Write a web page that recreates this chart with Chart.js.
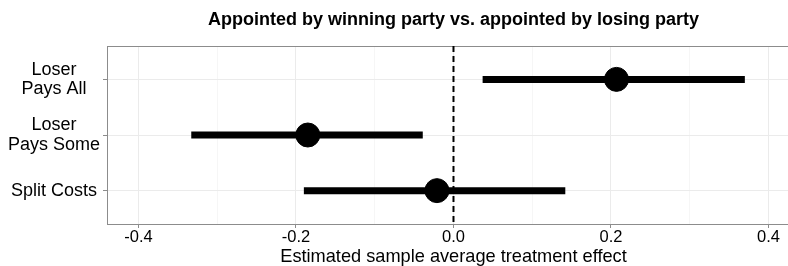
<!DOCTYPE html>
<html>
<head>
<meta charset="utf-8">
<script src="https://cdn.jsdelivr.net/npm/chart.js@4.4.1/dist/chart.umd.min.js"></script>
<style>
  body { margin: 0; background: #fff; }
</style>
</head>
<body>
<canvas id="chart" width="788" height="266"></canvas>
<script>
// data
const categories = [['Loser', 'Pays All'], ['Loser', 'Pays Some'], 'Split Costs'];
const estimates = [0.207, -0.185, -0.021];
const lower = [0.037, -0.333, -0.190];
const upper = [0.370, -0.039, 0.142];
const xMajorTicks = [-0.4, -0.2, 0.0, 0.2, 0.4];
const xMinorTicks = [-0.3, -0.1, 0.1, 0.3];

const chartTitle = 'Appointed by winning party vs. appointed by losing party';
const xTitle = 'Estimated sample average treatment effect';

const FONT = "'Liberation Sans', Arial, sans-serif";
const isMajor = v => xMajorTicks.some(t => Math.abs(t - v) < 1e-9);

// panel runs -0.44..0.44 but the picture is cut at the right, so titles are centred on 0
const panelTitles = {
    id: 'panelTitles',
    afterDraw(chart) {
        const c = chart.ctx;
        const cx = chart.scales.x.getPixelForValue(0);
        c.save();
        c.fillStyle = '#000';
        c.textAlign = 'center';
        c.textBaseline = 'middle';
        c.font = 'bold 18px ' + FONT;
        c.fillText(chartTitle, cx, 20);
        c.font = '18.2px ' + FONT;
        c.fillText(xTitle, cx, 257);
        c.restore();
    }
};

// one line dataset per interval
const intervalSets = categories.map((c, i) => ({
    type: 'line',
    data: [{x: lower[i], y: i + 1}, {x: upper[i], y: i + 1}],
    borderColor: '#000',
    borderWidth: 7,
    borderCapStyle: 'butt',
    pointRadius: 0,
    order: 2
}));

const noPad = s => { s.paddingLeft = 0; s.paddingRight = 0; };

const ctx = document.getElementById('chart').getContext('2d');
new Chart(ctx, {
    type: 'scatter',
    data: {
        datasets: [
            {
                data: estimates.map((e, i) => ({x: e, y: i + 1})),
                backgroundColor: '#000',
                borderColor: '#000',
                pointRadius: 12,
                pointHoverRadius: 12,
                order: 1
            },
            ...intervalSets,
            {
                // zero reference line
                type: 'line',
                data: [{x: 0, y: 0.4}, {x: 0, y: 3.6}],
                borderColor: '#000',
                borderWidth: 2,
                borderDash: [6, 4],
                pointRadius: 0,
                order: 3
            }
        ]
    },
    plugins: [panelTitles],
    options: {
        responsive: false,
        animation: false,
        layout: { autoPadding: false, padding: { top: 46, left: 0, right: 0, bottom: 0 } },
        plugins: {
            legend: { display: false },
            tooltip: { enabled: false },
            title: { display: false }
        },
        scales: {
            x: {
                type: 'linear',
                min: -0.44,
                max: 0.4248,
                afterBuildTicks: s => {
                    s.ticks = xMajorTicks.concat(xMinorTicks).sort((a, b) => a - b).map(v => ({value: v}));
                },
                afterFit: s => { s.height = 42; noPad(s); },
                ticks: {
                    color: '#000',
                    font: { family: FONT, size: 16.5 },
                    padding: 0,
                    maxRotation: 0,
                    autoSkip: false,
                    callback: v => isMajor(v) ? v.toFixed(1) : ''
                },
                grid: {
                    color: c => isMajor(c.tick.value) ? '#ebebeb' : '#f6f6f6',
                    tickColor: c => isMajor(c.tick.value) ? '#8c8c8c' : 'rgba(0,0,0,0)',
                    tickLength: 4,
                    lineWidth: 1
                },
                border: { color: '#8c8c8c', width: 1 }
            },
            x2: {
                type: 'linear',
                position: 'top',
                min: -0.44,
                max: 0.4248,
                ticks: { display: false },
                grid: { display: false, drawTicks: false },
                border: { color: '#8c8c8c', width: 1 },
                afterFit: s => { s.height = 0; noPad(s); }
            },
            y: {
                type: 'linear',
                min: 0.4,
                max: 3.6,
                reverse: true,
                afterBuildTicks: s => {
                    s.ticks = categories.map((c, i) => ({value: i + 1}));
                },
                afterFit: s => { s.width = 107; },
                ticks: {
                    color: '#000',
                    crossAlign: 'center',
                    padding: 3,
                    font: { family: FONT, size: 18, lineHeight: 1.08 },
                    callback: v => categories[v - 1]
                },
                grid: {
                    color: '#ebebeb',
                    tickColor: '#8c8c8c',
                    tickLength: 4,
                    lineWidth: 1
                },
                border: { color: '#8c8c8c', width: 1 }
            }
        }
    }
});
</script>
</body>
</html>
